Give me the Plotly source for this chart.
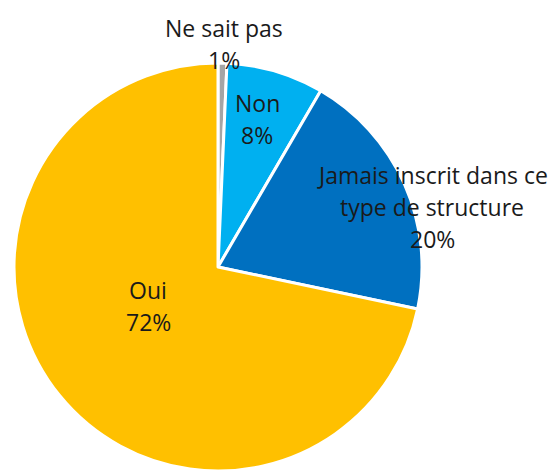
import plotly.graph_objects as go

labels = ["Ne sait pas", "Non", "Jamais inscrit dans ce type de structure", "Oui"]
values = [0.7, 7.7, 19.9, 71.7]
label_lines = [["Ne sait pas"], ["Non"], ["Jamais inscrit dans ce", "type de structure"], ["Oui"]]
colors = ["#A5A5A5", "#00B0F0", "#0070C0", "#FFC000"]

W, H = 555, 471
fig = go.Figure(go.Pie(
    labels=labels, values=values, sort=False, direction="clockwise", rotation=0,
    marker=dict(colors=colors, line=dict(color="white", width=3)),
    textinfo="none", hoverinfo="label+percent", showlegend=False,
    domain=dict(x=[14 / W, 422 / W], y=[0, 408 / H]),
))

total = sum(values)
# first-line centre of each label block (pixels in the 555x471 frame)
label_pos = [(224, 28), (257, 103), (432, 175), (148, 290)]
line_gap = 32
for lines, v, (px, py) in zip(label_lines, values, label_pos):
    all_lines = lines + [f"{round(100 * v / total)}%"]
    for i, line in enumerate(all_lines):
        fig.add_annotation(x=px / W, y=1 - (py + i * line_gap) / H, xref="paper", yref="paper",
                           text=line, showarrow=False, xanchor="center", yanchor="middle",
                           font=dict(family="Open Sans, sans-serif", size=23, color="#1a1a1a"))

fig.update_layout(width=W, height=H, margin=dict(l=0, r=0, t=0, b=0),
                  paper_bgcolor="white", plot_bgcolor="white")
fig.write_html("out.html", config={"displayModeBar": False},
               post_script="document.body.style.margin='0';document.body.style.overflow='hidden';")
